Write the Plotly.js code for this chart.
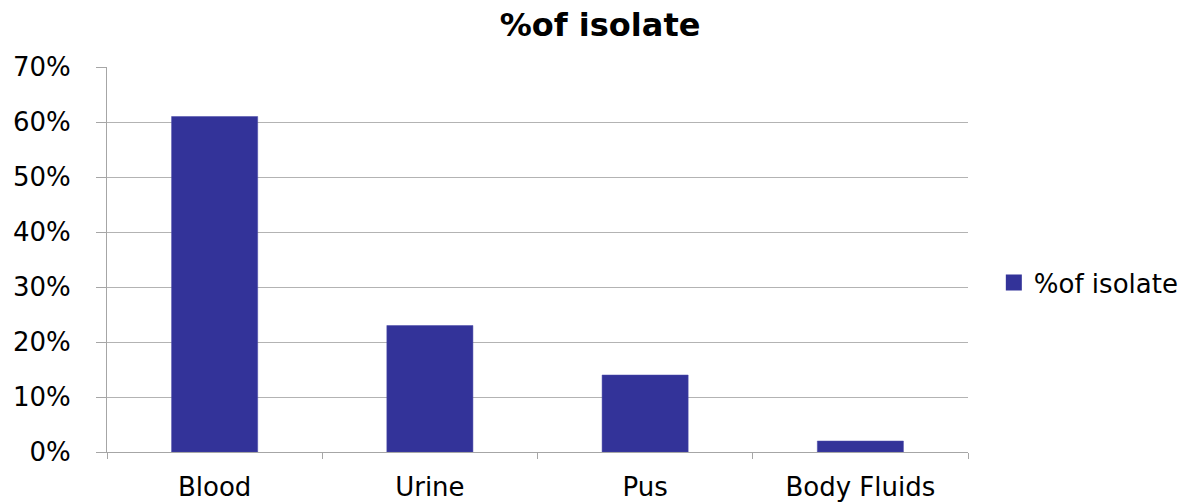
<!DOCTYPE html>
<html>
<head>
<meta charset="utf-8">
<script src="https://cdn.plot.ly/plotly-3.0.1.min.js"></script>
<style>html,body{margin:0;padding:0;background:#fff;}#chart{width:1193px;height:502px;}</style>
</head>
<body>
<div id="chart"></div>
<script>
const categories = ["Blood", "Urine", "Pus", "Body Fluids"];
const values = [0.61, 0.23, 0.14, 0.02];
const seriesName = "%of isolate";
const chartTitle = "%of isolate";

const FONT = "DejaVu Sans, Liberation Sans, Arial, sans-serif";

const trace = {
  type: "bar",
  x: categories,
  y: values,
  name: seriesName,
  marker: { color: "#333399", line: { color: "#4a4aa8", width: 0.5 } },
  showlegend: false,
  hoverinfo: "x+y"
};

// legend proxy with a larger square swatch
const legendProxy = {
  type: "scatter",
  mode: "markers",
  x: [categories[0]],
  y: [null],
  name: seriesName,
  marker: { color: "#333399", symbol: "square", size: 16 },
  showlegend: true,
  hoverinfo: "skip"
};

const layout = {
  width: 1193,
  height: 502,
  margin: { l: 107, r: 225, t: 67, b: 50, autoexpand: false },
  paper_bgcolor: "#ffffff",
  plot_bgcolor: "#ffffff",
  bargap: 0.6,
  title: {
    text: "<b>" + chartTitle + "</b>",
    font: { family: FONT, size: 32, color: "#000000" },
    x: 0.503, xanchor: "center",
    y: 0.95, yanchor: "middle", yref: "container"
  },
  xaxis: {
    type: "category",
    showgrid: false,
    showline: true,
    linecolor: "#a6a6a6",
    linewidth: 1,
    ticks: "outside",
    tickson: "boundaries",
    ticklen: 6,
    tickcolor: "#a6a6a6",
    tickfont: { family: FONT, size: 26, color: "#000000" },
    ticklabelstandoff: 12,
    zeroline: false,
    automargin: false
  },
  yaxis: {
    range: [0, 0.7],
    dtick: 0.1,
    tick0: 0,
    tickformat: ".0%",
    showgrid: true,
    gridcolor: "#b3b3b3",
    gridwidth: 1,
    showline: true,
    linecolor: "#a6a6a6",
    linewidth: 1,
    ticks: "outside",
    ticklen: 10,
    tickcolor: "#a6a6a6",
    tickfont: { family: FONT, size: 26, color: "#000000" },
    ticklabelstandoff: 20,
    zeroline: false,
    fixedrange: true,
    automargin: false
  },
  showlegend: true,
  legend: {
    x: 1.03, xanchor: "left",
    y: 0.44, yanchor: "middle",
    font: { family: FONT, size: 26, color: "#000000" },
    bgcolor: "rgba(0,0,0,0)",
    itemwidth: 30,
    itemsizing: "trace"
  }
};

Plotly.newPlot("chart", [trace, legendProxy], layout, { displayModeBar: false, staticPlot: true });
</script>
</body>
</html>
